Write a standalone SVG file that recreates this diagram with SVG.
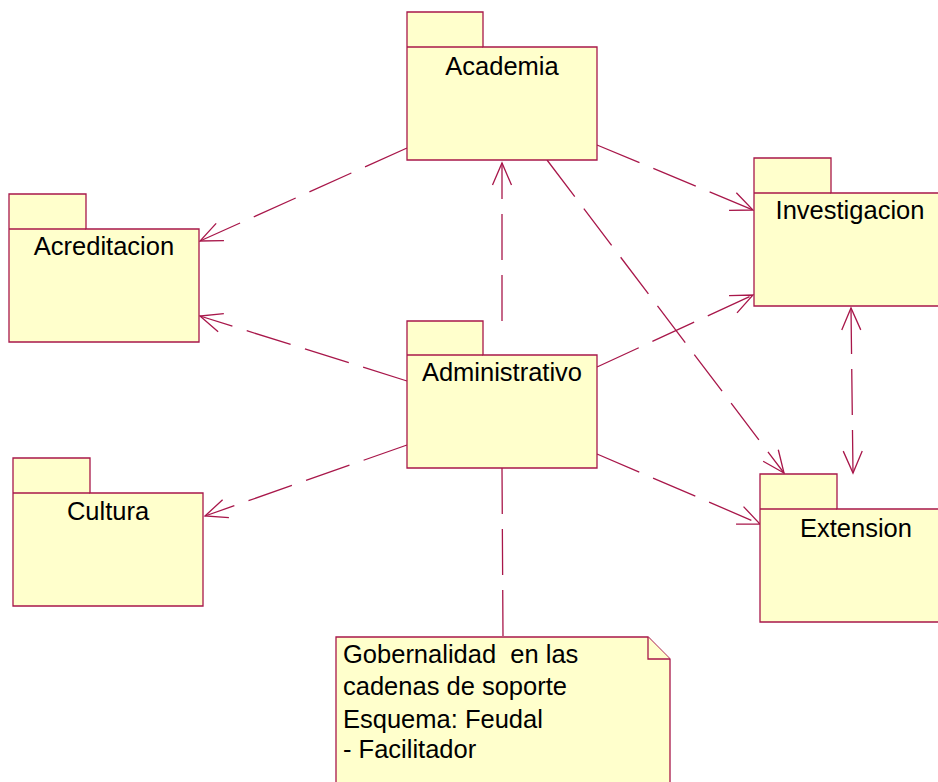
<svg xmlns="http://www.w3.org/2000/svg" width="938" height="782" viewBox="0 0 938 782">
<style>
.pkg{fill:#FFFFCC;stroke:#A8174A;stroke-width:1.3}
.lbl{font-family:"Liberation Sans",Arial,sans-serif;font-size:25.5px;fill:#000;text-anchor:middle}
.note{font-family:"Liberation Sans",Arial,sans-serif;font-size:25.5px;fill:#000}
.dep{fill:none;stroke:#A8174A;stroke-width:1.3;stroke-dasharray:46 15}
</style>
<defs>
<marker id="arr" markerUnits="userSpaceOnUse" markerWidth="30" markerHeight="30" viewBox="-26 -13 30 26" refX="0" refY="0" orient="auto">
<path d="M -22 -9.5 L 0 0 L -22 9.5" fill="none" stroke="#A8174A" stroke-width="1.3" stroke-dasharray="none"/>
</marker>
<marker id="arrs" markerUnits="userSpaceOnUse" markerWidth="30" markerHeight="30" viewBox="-4 -13 30 26" refX="0" refY="0" orient="auto">
<path d="M 22 -9.5 L 0 0 L 22 9.5" fill="none" stroke="#A8174A" stroke-width="1.3" stroke-dasharray="none"/>
</marker>
</defs>
<rect width="938" height="782" fill="#fff"/>
<g id="connectors">
<path class="dep" d="M407 148 L200 241" marker-end="url(#arr)"/>
<path class="dep" d="M407 381 L200 316" marker-end="url(#arr)"/>
<path class="dep" d="M502 321 L502 163" marker-end="url(#arr)"/>
<path class="dep" d="M597 145 L753 210" marker-end="url(#arr)"/>
<path class="dep" d="M597 367 L753 295" marker-end="url(#arr)"/>
<path class="dep" d="M547 160 L784 473" marker-end="url(#arr)"/>
<path class="dep" d="M597 454 L760 524" marker-end="url(#arr)"/>
<path class="dep" d="M407 445 L205 516" marker-end="url(#arr)"/>
<path class="dep" d="M851 308 L853 473" marker-start="url(#arrs)" marker-end="url(#arr)"/>
<path class="dep" d="M502 468 L503 637"/>
</g>
<g id="academia">
<path class="pkg" d="M407 12 H483 V47 H597 V160 H407 Z"/>
<path class="pkg" d="M407 47 H483" fill="none"/>
<text class="lbl" x="502" y="75">Academia</text>
</g>
<g id="acreditacion">
<path class="pkg" d="M9 194 H86 V229 H199 V342 H9 Z"/>
<path class="pkg" d="M9 229 H86" fill="none"/>
<text class="lbl" x="104" y="255">Acreditacion</text>
</g>
<g id="investigacion">
<path class="pkg" d="M754 158 H831 V193 H944 V306 H754 Z"/>
<path class="pkg" d="M754 193 H831" fill="none"/>
<text class="lbl" x="850" y="219">Investigacion</text>
</g>
<g id="administrativo">
<path class="pkg" d="M407 321 H483 V355 H597 V468 H407 Z"/>
<path class="pkg" d="M407 355 H483" fill="none"/>
<text class="lbl" x="502" y="381">Administrativo</text>
</g>
<g id="cultura">
<path class="pkg" d="M13 458 H90 V493 H203 V606 H13 Z"/>
<path class="pkg" d="M13 493 H90" fill="none"/>
<text class="lbl" x="108" y="520">Cultura</text>
</g>
<g id="extension">
<path class="pkg" d="M760 474 H837 V509 H950 V622 H760 Z"/>
<path class="pkg" d="M760 509 H837" fill="none"/>
<text class="lbl" x="856" y="537">Extension</text>
</g>
<g id="note">
<path class="pkg" d="M336 637 H648 L670 659 V790 H336 Z"/>
<path class="pkg" d="M648 637 V659 H670" fill="none"/>
<text class="note" x="343" y="663" xml:space="preserve">Gobernalidad  en las</text>
<text class="note" x="343" y="695">cadenas de soporte</text>
<text class="note" x="343" y="728">Esquema: Feudal</text>
<text class="note" x="343" y="758">- Facilitador</text>
</g>
</svg>
